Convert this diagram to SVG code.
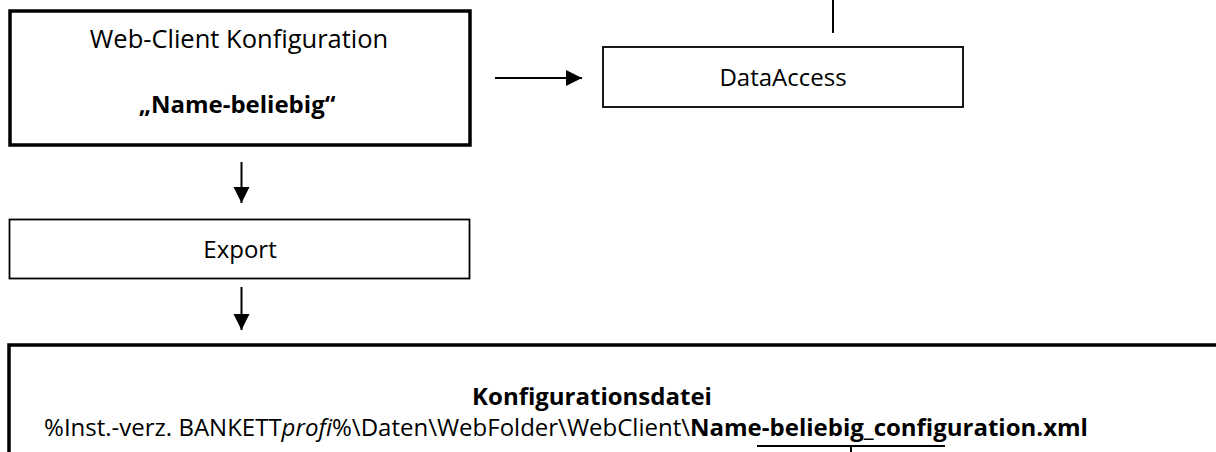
<svg xmlns="http://www.w3.org/2000/svg" width="1216" height="452" viewBox="0 0 1216 452">
<style>
.box{fill:#fff;stroke:#000}
.thick{stroke-width:3.5}
.thin{stroke-width:1.8}
.t{font-family:"Open Sans","Liberation Sans",sans-serif;font-size:24px;fill:#000;text-anchor:middle}
.big{font-size:25.5px}
.b{font-weight:bold}
.c{stroke:#000;stroke-width:2;fill:none}
</style>
<defs>
<marker id="ah" markerUnits="userSpaceOnUse" markerWidth="17" markerHeight="17" viewBox="0 0 17 17" refX="16" refY="8.5" orient="auto"><path d="M0,0.5 L16,8.5 L0,16.5 Z" fill="#000"/></marker>
</defs>
<rect x="0" y="0" width="1216" height="452" fill="#fff"/>
<g id="web-client">
<rect class="box thick" x="10" y="11" width="460" height="134"/>
<text class="t big" x="239" y="48">Web-Client Konfiguration</text>
<text class="t b" x="237" y="113">„Name-beliebig“</text>
</g>
<g id="dataaccess">
<rect class="box thin" x="603" y="47" width="360" height="60"/>
<text class="t" x="783" y="86">DataAccess</text>
</g>
<g id="export">
<rect class="box thin" x="9.5" y="219.5" width="460" height="59"/>
<text class="t" x="240" y="258">Export</text>
</g>
<g id="konfigurationsdatei">
<rect class="box thick" x="9" y="345" width="1230" height="150"/>
<text class="t b" x="592" y="405">Konfigurationsdatei</text>
<text class="t" x="566" y="436">%Inst.-verz. BANKETT<tspan font-style="italic">profi</tspan>%\Daten\WebFolder\WebClient\<tspan font-weight="bold">Name-beliebig_configuration.xml</tspan></text>
</g>
<g id="connectors">
<line class="c" x1="495" y1="78" x2="582" y2="78" marker-end="url(#ah)"/>
<line class="c" x1="241.5" y1="162" x2="241.5" y2="203" marker-end="url(#ah)"/>
<line class="c" x1="241.5" y1="287" x2="241.5" y2="330" marker-end="url(#ah)"/>
<line class="c" x1="833" y1="0" x2="833" y2="33"/>
<line class="c" x1="757" y1="446" x2="945" y2="446"/>
<line class="c" x1="851" y1="446" x2="851" y2="453"/>
</g>
</svg>
